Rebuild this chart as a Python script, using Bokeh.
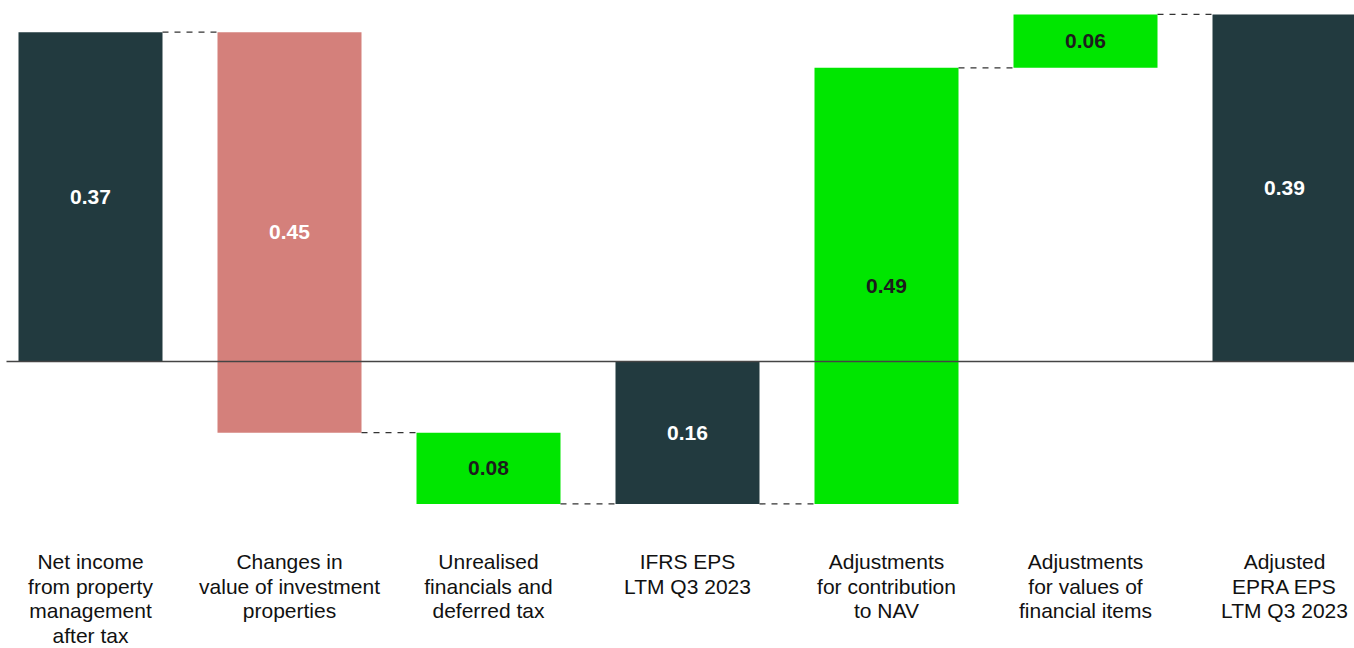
from bokeh.plotting import figure
from bokeh.models import Range1d, ColumnDataSource
from bokeh.core.properties import value
from bokeh.embed import file_html
from bokeh.resources import INLINE

# ---- data -------------------------------------------------------------
categories = [
    "Net income\nfrom property\nmanagement\nafter tax",
    "Changes in\nvalue of investment\nproperties",
    "Unrealised\nfinancials and\ndeferred tax",
    "IFRS EPS\nLTM Q3 2023",
    "Adjustments\nfor contribution\nto NAV",
    "Adjustments\nfor values of\nfinancial items",
    "Adjusted\nEPRA EPS\nLTM Q3 2023",
]
# signed amounts (SEK per share); totals restart from zero
amounts = [0.37, -0.45, -0.08, -0.16, 0.49, 0.06, 0.39]
kinds = ["total", "decrease", "decrease", "total", "increase", "increase", "total"]
value_labels = ["0.37", "0.45", "0.08", "0.16", "0.49", "0.06", "0.39"]

# ---- style ------------------------------------------------------------
DARK = "#223a3f"
RED = "#d4807b"
GREEN = "#00e600"
FONT = "Liberation Sans"
W, H = 1354, 648
STEP_PX = 199          # pixel distance between bar centres
FIRST_PX = 90          # pixel centre of the first bar
BAR_W = 144 / STEP_PX  # bar width in data units
PX_PER_UNIT = 890.0
ZERO_PX = 361.0

# ---- waterfall geometry ----------------------------------------------
xs, bottoms, tops, colors, text_colors = [], [], [], [], []
running = 0.0
levels = []
for i, (amt, kind) in enumerate(zip(amounts, kinds)):
    if kind == "total":
        b, t = 0.0, amt
        running = amt
    else:
        b, t = running, running + amt
        running = running + amt
    xs.append(i)
    bottoms.append(b)
    tops.append(t)
    levels.append(running)
    if kind == "total":
        colors.append(DARK); text_colors.append("#ffffff")
    elif kind == "decrease" and amt < -0.1:
        colors.append(RED); text_colors.append("#ffffff")
    else:
        colors.append(GREEN); text_colors.append("#1c1c1c")

bars = ColumnDataSource(dict(
    x=xs, bottom=bottoms, top=tops, color=colors,
    mid=[(b + t) / 2 for b, t in zip(bottoms, tops)],
    label=value_labels, tcolor=text_colors,
))

p = figure(
    width=W, height=H, output_backend="svg", toolbar_location=None,
    x_range=Range1d(-FIRST_PX / STEP_PX, (W - FIRST_PX) / STEP_PX),
    y_range=Range1d(-(H - ZERO_PX) / PX_PER_UNIT, ZERO_PX / PX_PER_UNIT),
    min_border=0, outline_line_color=None, background_fill_color="white",
    border_fill_color="white",
)
p.axis.visible = False
p.grid.visible = False

p.vbar(x="x", bottom="bottom", top="top", width=BAR_W, fill_color="color",
       line_color=None, source=bars)

# zero line
p.segment(x0=[-(FIRST_PX - 6) / STEP_PX], x1=[(W - FIRST_PX) / STEP_PX],
          y0=[0], y1=[0], line_color="#444444", line_width=1.6)

# dashed connectors between consecutive bars
conn = ColumnDataSource(dict(
    x0=[i + BAR_W / 2 for i in range(len(xs) - 1)],
    x1=[i + 1 - BAR_W / 2 for i in range(len(xs) - 1)],
    y=levels[:-1],
))
p.segment(x0="x0", x1="x1", y0="y", y1="y", source=conn,
          line_color="#333333", line_width=1.3, line_dash="6 6")

# values inside bars
p.text(x="x", y="mid", text="label", text_color="tcolor", source=bars,
       text_align="center", text_baseline="middle",
       text_font=value(FONT), text_font_size="21px", text_font_style="bold")

# category labels, one glyph row per line
lx, ly, lt = [], [], []
for i, cat in enumerate(categories):
    for j, line in enumerate(cat.split("\n")):
        lx.append(i)
        ly.append((ZERO_PX - (561 + 24.5 * j)) / PX_PER_UNIT)
        lt.append(line)
p.text(x=lx, y=ly, text=lt, text_align="center", text_baseline="middle",
       text_color="#111111", text_font=value(FONT), text_font_size="21px")

open("out.html", "w").write(file_html(p, INLINE))
